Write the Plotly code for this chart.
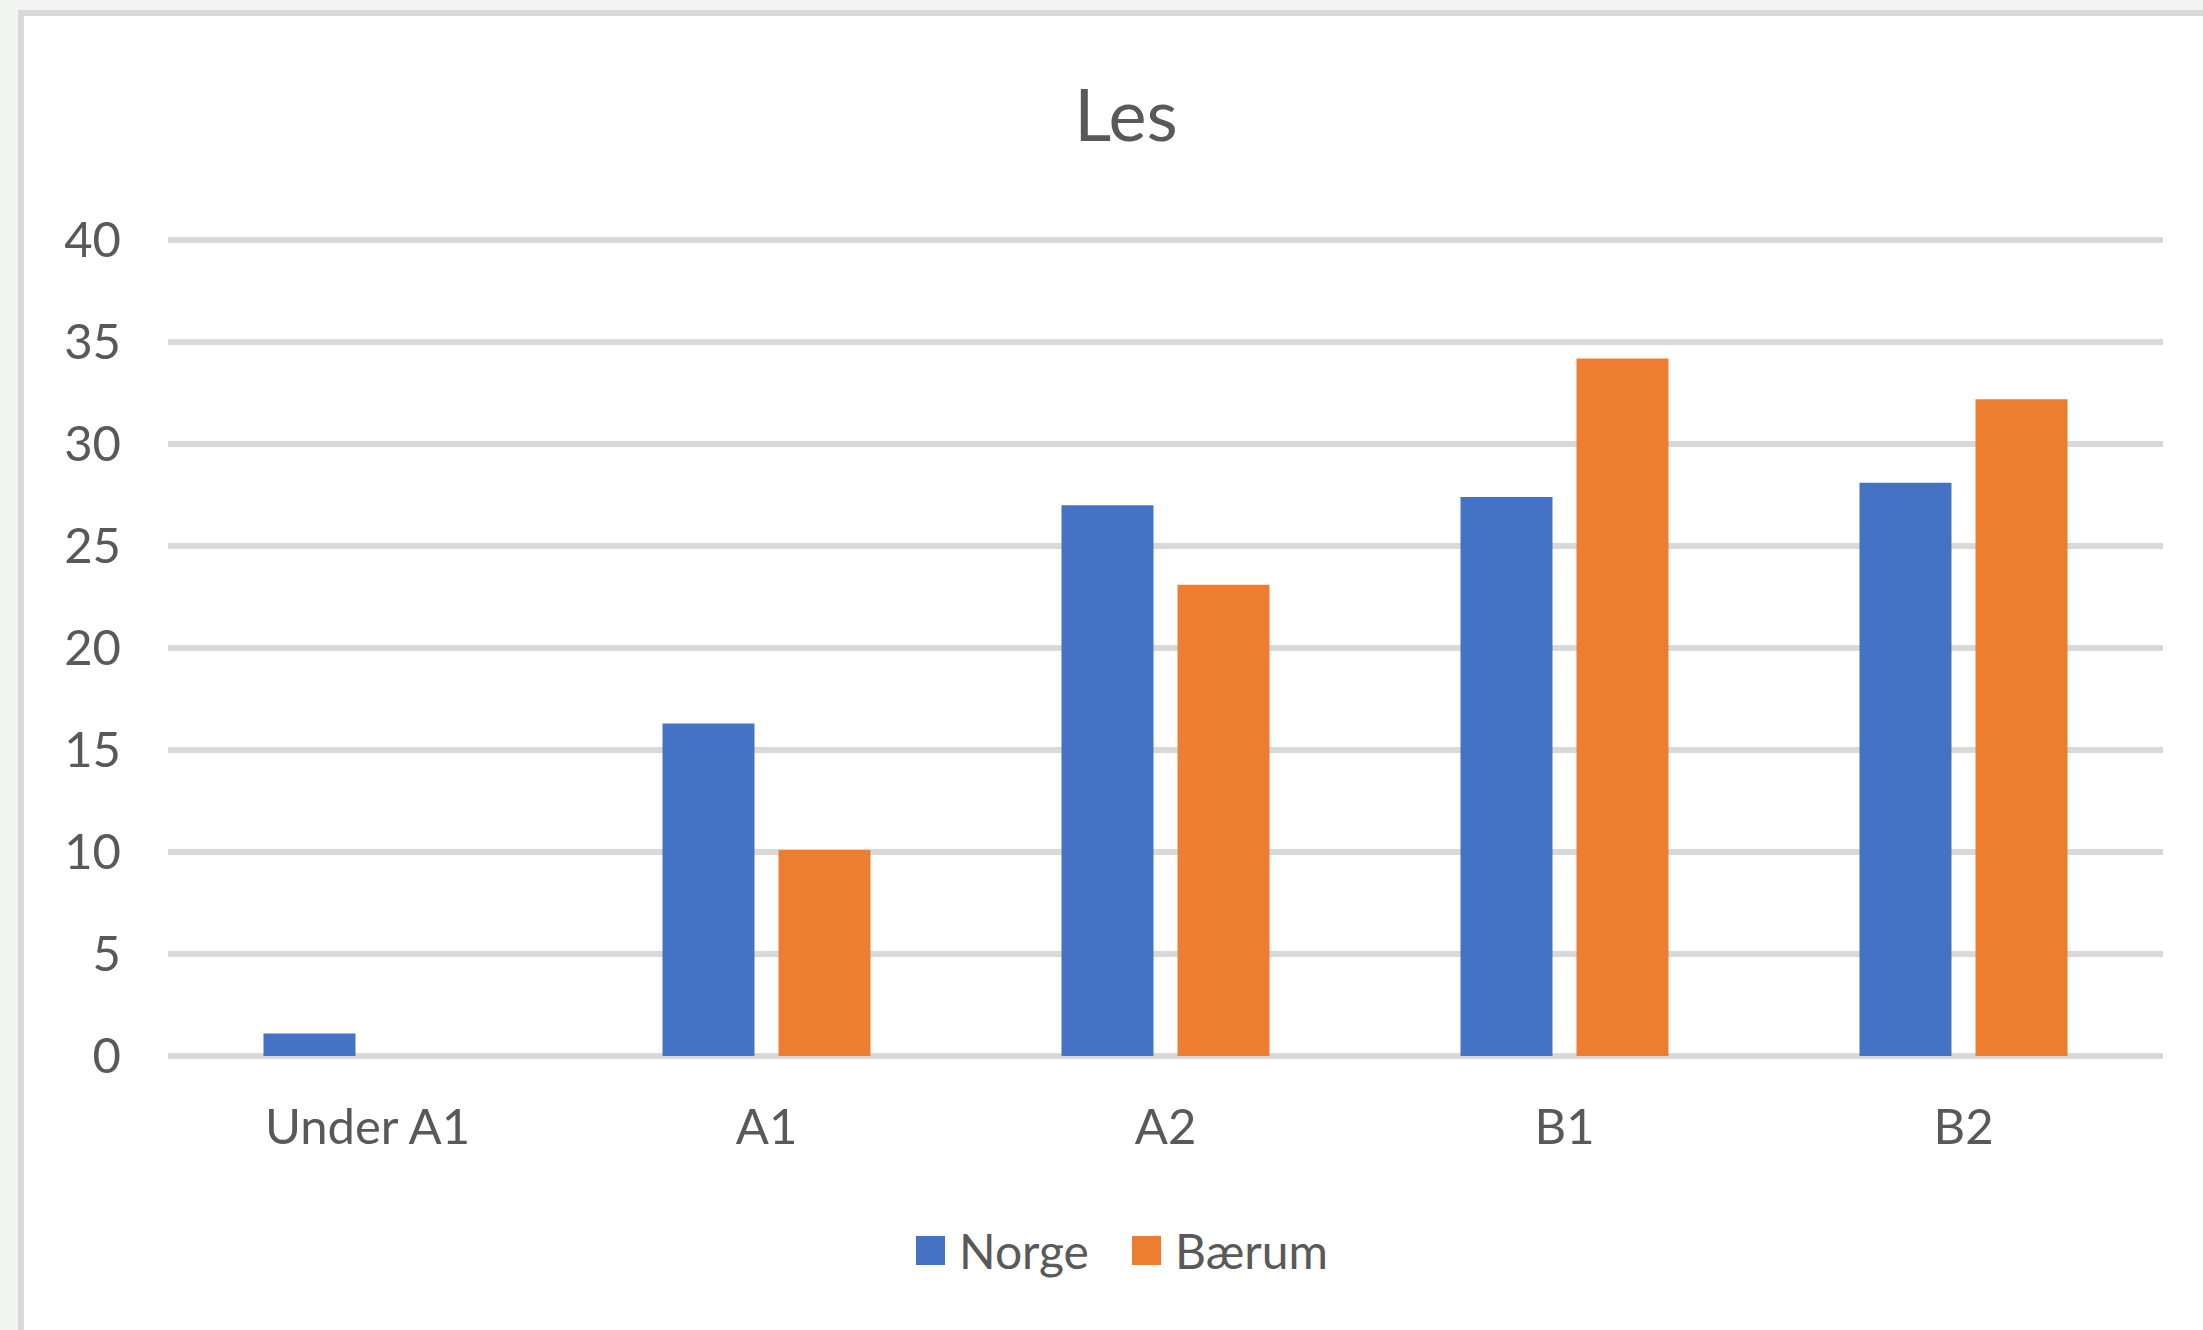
import plotly.graph_objects as go

categories = ["Under A1", "A1", "A2", "B1", "B2"]
norge = [1.1, 16.3, 27.0, 27.4, 28.1]
baerum = [0, 10.1, 23.1, 34.2, 32.2]
series_names = ["Norge", "Bærum"]
colors = ["#4472C4", "#ED7D31"]
y_ticks = [0, 5, 10, 15, 20, 25, 30, 35, 40]
title_text = "Les"

W, H = 2203, 1330
L, R, T, B = 168, 40, 234, 268
PW, PH = W - L - R, H - T - B
FONT = "Lato"
TXT = "#595959"


def px(x):
    return (x - L) / PW


def py(y):
    return (H - B - y) / PH


fig = go.Figure()
for name, vals, col in zip(series_names, [norge, baerum], colors):
    fig.add_trace(go.Bar(x=categories, y=vals, name=name,
                         marker=dict(color=col, line=dict(width=0)),
                         showlegend=False))

shapes = [
    dict(type="rect", xref="paper", yref="paper",
         x0=px(21), x1=px(2300), y0=py(13), y1=py(1420),
         fillcolor="white", line=dict(color="#D9D9D9", width=6), layer="below"),
]
annotations = []
# legend
leg_items = [(916, series_names[0], colors[0]), (1132, series_names[1], colors[1])]
for x0, name, col in leg_items:
    shapes.append(dict(type="rect", xref="paper", yref="paper",
                       x0=px(x0), x1=px(x0 + 29), y0=py(1265), y1=py(1236),
                       fillcolor=col, line=dict(width=0)))
    annotations.append(dict(text=name, xref="paper", yref="paper",
                            x=px(x0 + 41), y=py(1250), xanchor="left", yanchor="middle",
                            showarrow=False, font=dict(family=FONT, size=48, color=TXT)))

fig.update_layout(
    width=W, height=H,
    margin=dict(l=L, r=R, t=T, b=B, pad=0),
    paper_bgcolor="#F3F5F3",
    plot_bgcolor="rgba(0,0,0,0)",
    barmode="group",
    bargap=0.4185,
    bargroupgap=0.207,
    title=dict(text=title_text, xref="container", yref="container",
               x=1126 / W, y=1 - 116 / H, xanchor="center", yanchor="middle",
               font=dict(family=FONT, size=72, color=TXT)),
    font=dict(family=FONT, color=TXT),
    shapes=shapes,
    annotations=annotations,
    showlegend=False,
    xaxis=dict(showgrid=False, showline=False, zeroline=False, ticks="",
               tickfont=dict(family=FONT, size=49, color=TXT),
               ticklabelstandoff=32),
    yaxis=dict(range=[-0.3, 40.3], tickvals=y_ticks, showgrid=True,
               gridcolor="#D9D9D9", gridwidth=6, zeroline=False, showline=False,
               ticks="", tickfont=dict(family=FONT, size=49, color=TXT),
               ticklabelstandoff=46),
)

fig.write_html("out.html",
               config={"displayModeBar": False},
               post_script="document.body.style.margin='0';document.body.style.overflow='hidden';")
